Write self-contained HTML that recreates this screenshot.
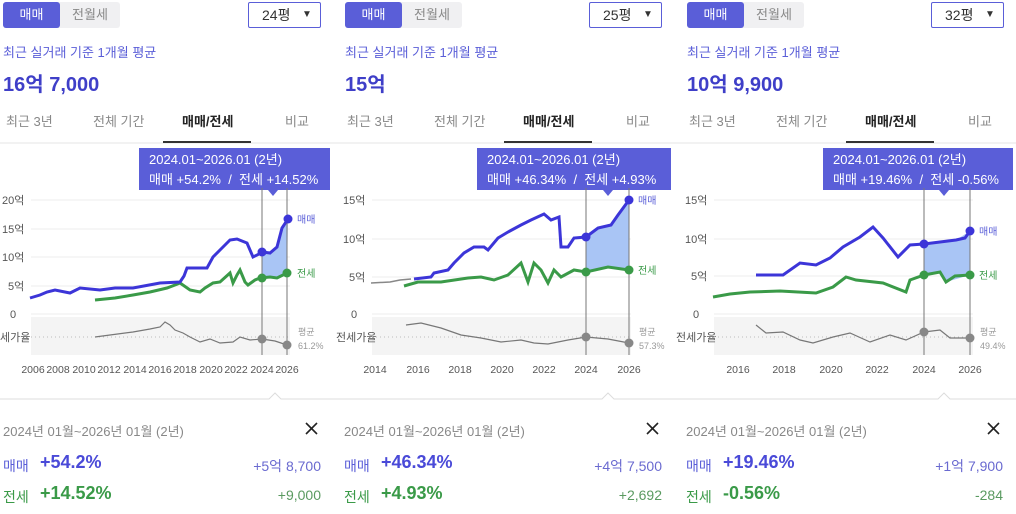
<!DOCTYPE html>
<html><head><meta charset="utf-8"><style>
body{margin:0;width:1016px;height:514px;background:#fff;overflow:hidden;position:relative;font-family:"Liberation Sans","Noto Sans CJK KR",sans-serif}
.a{position:absolute;white-space:nowrap}
.seg{position:absolute;top:2px;height:26px;width:117px;background:#f0f0f2;border-radius:3px}
.seg b{position:absolute;left:0;top:0;width:57px;height:26px;background:#5a5ed8;border-radius:3px;color:#fff;font-weight:normal;font-size:13px;line-height:26px;text-align:center}
.seg span{position:absolute;left:57px;width:60px;text-align:center;line-height:26px;font-size:13px;color:#888}
.dd{position:absolute;top:2px;width:71px;height:24px;border:1px solid #5a5ed8;border-radius:2px;font-size:14px;line-height:24px;color:#333}
.sub{font-size:13px;color:#5a5ed8;top:42px}
.big{font-size:20px;font-weight:bold;color:#3f3fc8;top:68px}
.tab{font-size:13px;color:#888;top:111px}
.tip{position:absolute;top:148px;height:42px;background:#5a5ed8;color:#fff;font-size:13px;line-height:20px;padding:2px 0 0 10px;box-sizing:border-box}
.r{font-size:13px;color:#888}
</style></head><body>
<!-- panel texts -->
<div class="seg" style="left:3px"><b>매매</b><span>전월세</span></div>
<div class="seg" style="left:345px"><b>매매</b><span>전월세</span></div>
<div class="seg" style="left:687px"><b>매매</b><span>전월세</span></div>
<div class="dd" style="left:248px"><span style="position:absolute;left:13px">24평</span><span style="position:absolute;left:53px;font-size:10px">▼</span></div>
<div class="dd" style="left:589px"><span style="position:absolute;left:13px">25평</span><span style="position:absolute;left:53px;font-size:10px">▼</span></div>
<div class="dd" style="left:931px"><span style="position:absolute;left:13px">32평</span><span style="position:absolute;left:53px;font-size:10px">▼</span></div>
<div class="a sub" style="left:3px">최근 실거래 기준 1개월 평균</div>
<div class="a sub" style="left:345px">최근 실거래 기준 1개월 평균</div>
<div class="a sub" style="left:687px">최근 실거래 기준 1개월 평균</div>
<div class="a big" style="left:3px">16억 7,000</div>
<div class="a big" style="left:345px">15억</div>
<div class="a big" style="left:687px">10억 9,900</div>
<div class="a tab" style="left:6px">최근 3년</div><div class="a tab" style="left:93px">전체 기간</div><div class="a tab" style="left:182px;color:#222;font-weight:bold">매매/전세</div><div class="a tab" style="left:285px">비교</div>
<div class="a tab" style="left:347px">최근 3년</div><div class="a tab" style="left:434px">전체 기간</div><div class="a tab" style="left:523px;color:#222;font-weight:bold">매매/전세</div><div class="a tab" style="left:626px">비교</div>
<div class="a tab" style="left:689px">최근 3년</div><div class="a tab" style="left:776px">전체 기간</div><div class="a tab" style="left:865px;color:#222;font-weight:bold">매매/전세</div><div class="a tab" style="left:968px">비교</div>
<div class="tip" style="left:139px;width:191px">2024.01~2026.01 (2년)<br>매매 +54.2% &nbsp;/&nbsp; 전세 +14.52%</div>
<div class="tip" style="left:477px;width:194px">2024.01~2026.01 (2년)<br>매매 +46.34% &nbsp;/&nbsp; 전세 +4.93%</div>
<div class="tip" style="left:823px;width:190px">2024.01~2026.01 (2년)<br>매매 +19.46% &nbsp;/&nbsp; 전세 -0.56%</div>

<svg class="a" style="left:0;top:0" width="1016" height="514" font-family="Liberation Sans,Noto Sans CJK KR,sans-serif">
<line x1="0" y1="143" x2="1016" y2="143" stroke="#e6e6e6"/>
<line x1="163" y1="142" x2="251" y2="142" stroke="#333" stroke-width="2"/>
<line x1="504" y1="142" x2="592" y2="142" stroke="#333" stroke-width="2"/>
<line x1="846" y1="142" x2="934" y2="142" stroke="#333" stroke-width="2"/>
<polygon points="268,190 278,190 273,196" fill="#5a5ed8"/>
<polygon points="603,190 613,190 608,196" fill="#5a5ed8"/>
<polygon points="939,190 949,190 944,196" fill="#5a5ed8"/>
<g font-size="11" fill="#555">
<!-- panel1 -->
<rect x="31" y="317" width="259" height="38" fill="#f4f4f4"/>
<g stroke="#ececec"><line x1="31" y1="200" x2="290" y2="200"/><line x1="31" y1="229" x2="290" y2="229"/><line x1="31" y1="257" x2="290" y2="257"/><line x1="31" y1="286" x2="290" y2="286"/><line x1="31" y1="314" x2="290" y2="314"/></g>
<text x="2" y="204">20억</text><text x="2" y="233">15억</text><text x="2" y="261">10억</text><text x="8" y="290">5억</text><text x="10" y="318">0</text><text x="0" y="341">세가율</text>
<line x1="31" y1="337" x2="290" y2="337" stroke="#bbb" stroke-dasharray="1,3"/>
<polygon points="262,252 270,253 277,247 282,228 288,219 287,273 277,278 262,278" fill="#a9c5f5"/>
<polyline fill="none" stroke="#777" stroke-width="1.2" points="95,337 110,335 133,332 150,329 160,327 165,322 170,325 175,330 183,333 190,337 200,342 210,339 220,343 233,342 240,337 250,340 262,339 275,341 287,345"/>
<polyline fill="none" stroke="#3a9a48" stroke-width="3" points="95,300 115,298 133,295 150,292 167,288 175,285 180,283 190,290 200,292 205,288 213,283 220,282 230,273 233,283 237,275 240,270 245,282 248,285 255,280 260,278 270,277 277,278 287,273"/>
<polyline fill="none" stroke="#3c35d8" stroke-width="3" points="30,298 40,295 47,292 55,290 70,293 80,288 100,290 115,288 133,288 160,283 180,282 184,276 187,268 207,268 213,257 220,250 230,240 237,239 247,243 253,257 263,252 270,253 277,247 282,228 288,219"/>
<line x1="262" y1="188" x2="262" y2="355" stroke="#777"/><line x1="287" y1="188" x2="287" y2="355" stroke="#777"/>
<circle cx="262" cy="252" r="4.5" fill="#3c35d8"/><circle cx="288" cy="219" r="4.5" fill="#3c35d8"/>
<circle cx="262" cy="278" r="4.5" fill="#3a9a48"/><circle cx="287" cy="273" r="4.5" fill="#3a9a48"/>
<circle cx="262" cy="339" r="4.5" fill="#888"/><circle cx="287" cy="345" r="4.5" fill="#888"/>
<text x="297" y="223" fill="#5a5ed8" font-size="10">매매</text><text x="297" y="277" fill="#3a9a48" font-size="10">전세</text>
<text x="298" y="335" fill="#999" font-size="9">평균</text><text x="298" y="349" fill="#999" font-size="9">61.2%</text>
<g font-size="10.5" text-anchor="middle"><text x="33" y="373">2006</text><text x="58" y="373">2008</text><text x="84" y="373">2010</text><text x="109" y="373">2012</text><text x="135" y="373">2014</text><text x="160" y="373">2016</text><text x="185" y="373">2018</text><text x="211" y="373">2020</text><text x="236" y="373">2022</text><text x="262" y="373">2024</text><text x="287" y="373">2026</text></g>
<!-- panel2 -->
<rect x="372" y="317" width="259" height="38" fill="#f4f4f4"/>
<g stroke="#ececec"><line x1="372" y1="200" x2="631" y2="200"/><line x1="372" y1="239" x2="631" y2="239"/><line x1="372" y1="277" x2="631" y2="277"/><line x1="372" y1="314" x2="631" y2="314"/></g>
<text x="343" y="204">15억</text><text x="343" y="243">10억</text><text x="349" y="281">5억</text><text x="351" y="318">0</text><text x="336" y="341">전세가율</text>
<line x1="372" y1="337" x2="631" y2="337" stroke="#bbb" stroke-dasharray="1,3"/>
<polygon points="586,237 598,228 611,225 618,215 629,200 629,270 608,267 586,272" fill="#a9c5f5"/>
<polyline fill="none" stroke="#888" stroke-width="1.5" points="371,283 390,282 400,280 411,279"/>
<polyline fill="none" stroke="#777" stroke-width="1.2" points="406,325 421,323 441,328 461,335 481,338 501,342 521,340 534,343 548,344 568,340 586,337 608,339 629,343"/>
<polyline fill="none" stroke="#3a9a48" stroke-width="3" points="404,286 418,282 441,282 468,278 481,277 494,280 508,275 521,263 528,282 534,263 541,270 548,283 554,270 561,277 574,270 586,272 608,267 629,270"/>
<polyline fill="none" stroke="#3c35d8" stroke-width="3" points="414,279 431,277 434,273 448,270 454,263 464,253 474,247 484,247 488,250 498,238 508,232 521,225 531,220 544,214 551,220 559,217 561,247 568,247 574,238 586,237 598,228 611,225 618,215 629,200"/>
<line x1="586" y1="188" x2="586" y2="355" stroke="#777"/><line x1="629" y1="188" x2="629" y2="355" stroke="#777"/>
<circle cx="586" cy="237" r="4.5" fill="#3c35d8"/><circle cx="629" cy="200" r="4.5" fill="#3c35d8"/>
<circle cx="586" cy="272" r="4.5" fill="#3a9a48"/><circle cx="629" cy="270" r="4.5" fill="#3a9a48"/>
<circle cx="586" cy="337" r="4.5" fill="#888"/><circle cx="629" cy="343" r="4.5" fill="#888"/>
<text x="638" y="204" fill="#5a5ed8" font-size="10">매매</text><text x="638" y="274" fill="#3a9a48" font-size="10">전세</text>
<text x="639" y="335" fill="#999" font-size="9">평균</text><text x="639" y="349" fill="#999" font-size="9">57.3%</text>
<g font-size="10.5" text-anchor="middle"><text x="375" y="373">2014</text><text x="418" y="373">2016</text><text x="460" y="373">2018</text><text x="502" y="373">2020</text><text x="544" y="373">2022</text><text x="586" y="373">2024</text><text x="629" y="373">2026</text></g>
<!-- panel3 -->
<rect x="714" y="317" width="259" height="38" fill="#f4f4f4"/>
<g stroke="#ececec"><line x1="714" y1="200" x2="973" y2="200"/><line x1="714" y1="239" x2="973" y2="239"/><line x1="714" y1="276" x2="973" y2="276"/><line x1="714" y1="314" x2="973" y2="314"/></g>
<text x="685" y="204">15억</text><text x="685" y="243">10억</text><text x="691" y="280">5억</text><text x="693" y="318">0</text><text x="676" y="341">전세가율</text>
<line x1="714" y1="337" x2="973" y2="337" stroke="#bbb" stroke-dasharray="1,3"/>
<polygon points="924,244 956,240 970,231 970,275 946,282 940,272 924,275" fill="#a9c5f5"/>
<polyline fill="none" stroke="#777" stroke-width="1.2" points="756,325 766,333 783,332 800,340 813,343 833,337 850,333 870,342 890,335 906,340 924,332 940,330 950,338 970,338"/>
<polyline fill="none" stroke="#3a9a48" stroke-width="3" points="713,297 730,294 750,292 780,291 816,293 833,287 846,277 856,280 883,283 906,292 910,280 924,275 940,272 946,282 955,276 970,275"/>
<polyline fill="none" stroke="#3c35d8" stroke-width="3" points="756,275 783,275 800,263 816,265 830,258 843,247 860,237 873,227 883,238 898,257 910,245 924,244 956,240 965,238 970,231"/>
<line x1="924" y1="188" x2="924" y2="355" stroke="#777"/><line x1="970" y1="188" x2="970" y2="355" stroke="#777"/>
<circle cx="924" cy="244" r="4.5" fill="#3c35d8"/><circle cx="970" cy="231" r="4.5" fill="#3c35d8"/>
<circle cx="924" cy="275" r="4.5" fill="#3a9a48"/><circle cx="970" cy="275" r="4.5" fill="#3a9a48"/>
<circle cx="924" cy="332" r="4.5" fill="#888"/><circle cx="970" cy="338" r="4.5" fill="#888"/>
<text x="979" y="235" fill="#5a5ed8" font-size="10">매매</text><text x="979" y="279" fill="#3a9a48" font-size="10">전세</text>
<text x="980" y="335" fill="#999" font-size="9">평균</text><text x="980" y="349" fill="#999" font-size="9">49.4%</text>
<g font-size="10.5" text-anchor="middle"><text x="738" y="373">2016</text><text x="784" y="373">2018</text><text x="831" y="373">2020</text><text x="877" y="373">2022</text><text x="924" y="373">2024</text><text x="970" y="373">2026</text></g>
</g>
<!-- bottom separator -->
<polyline fill="none" stroke="#ddd" points="0,399 269,399 275,393 281,399 602,399 608,393 614,399 938,399 944,393 950,399 1016,399"/>
<g stroke="#222" stroke-width="1.6"><line x1="306" y1="423" x2="317" y2="434"/><line x1="317" y1="423" x2="306" y2="434"/>
<line x1="647" y1="423" x2="658" y2="434"/><line x1="658" y1="423" x2="647" y2="434"/>
<line x1="988" y1="423" x2="999" y2="434"/><line x1="999" y1="423" x2="988" y2="434"/></g>
</svg>

<div class="a r" style="left:3px;top:421px">2024년 01월~2026년 01월 (2년)</div>
<div class="a r" style="left:344px;top:421px">2024년 01월~2026년 01월 (2년)</div>
<div class="a r" style="left:686px;top:421px">2024년 01월~2026년 01월 (2년)</div>

<div class="a" style="left:3px;top:456px;font-size:14px;color:#5a5ed8">매매</div><div class="a" style="left:40px;top:452px;font-size:18px;font-weight:bold;color:#4a4ad8">+54.2%</div><div class="a" style="right:695px;top:456px;font-size:14px;color:#6a6ad0">+5억 8,700</div>
<div class="a" style="left:3px;top:487px;font-size:14px;color:#3a9a48">전세</div><div class="a" style="left:40px;top:483px;font-size:18px;font-weight:bold;color:#3a9a48">+14.52%</div><div class="a" style="right:695px;top:487px;font-size:14px;color:#5a9a60">+9,000</div>

<div class="a" style="left:344px;top:456px;font-size:14px;color:#5a5ed8">매매</div><div class="a" style="left:381px;top:452px;font-size:18px;font-weight:bold;color:#4a4ad8">+46.34%</div><div class="a" style="right:354px;top:456px;font-size:14px;color:#6a6ad0">+4억 7,500</div>
<div class="a" style="left:344px;top:487px;font-size:14px;color:#3a9a48">전세</div><div class="a" style="left:381px;top:483px;font-size:18px;font-weight:bold;color:#3a9a48">+4.93%</div><div class="a" style="right:354px;top:487px;font-size:14px;color:#5a9a60">+2,692</div>

<div class="a" style="left:686px;top:456px;font-size:14px;color:#5a5ed8">매매</div><div class="a" style="left:723px;top:452px;font-size:18px;font-weight:bold;color:#4a4ad8">+19.46%</div><div class="a" style="right:13px;top:456px;font-size:14px;color:#6a6ad0">+1억 7,900</div>
<div class="a" style="left:686px;top:487px;font-size:14px;color:#3a9a48">전세</div><div class="a" style="left:723px;top:483px;font-size:18px;font-weight:bold;color:#3a9a48">-0.56%</div><div class="a" style="right:13px;top:487px;font-size:14px;color:#5a9a60">-284</div>
</body></html>
